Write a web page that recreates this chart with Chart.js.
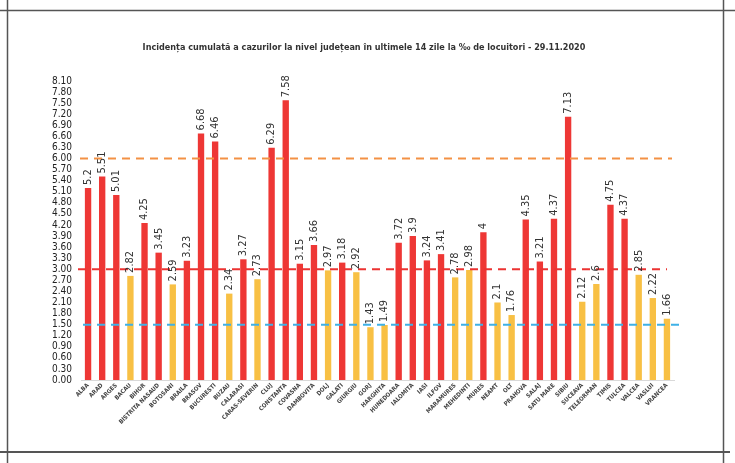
<!DOCTYPE html>
<html><head><meta charset="utf-8">
<script src="https://cdn.jsdelivr.net/npm/chart.js@4/dist/chart.umd.min.js"></script>
<style>html,body{margin:0;padding:0;background:#fff}#w{width:735px;height:463px;position:relative}</style>
</head><body><div id="w"><canvas id="c" width="735" height="463"></canvas></div>
<script>
const categories = ["ALBA","ARAD","ARGES","BACAU","BIHOR","BISTRITA NASAUD","BOTOSANI","BRAILA","BRASOV","BUCURESTI","BUZAU","CALARASI","CARAS-SEVERIN","CLUJ","CONSTANTA","COVASNA","DAMBOVITA","DOLJ","GALATI","GIURGIU","GORJ","HARGHITA","HUNEDOARA","IALOMITA","IASI","ILFOV","MARAMURES","MEHEDINTI","MURES","NEAMT","OLT","PRAHOVA","SALAJ","SATU MARE","SIBIU","SUCEAVA","TELEORMAN","TIMIS","TULCEA","VALCEA","VASLUI","VRANCEA"];
const values = [5.2,5.51,5.01,2.82,4.25,3.45,2.59,3.23,6.68,6.46,2.34,3.27,2.73,6.29,7.58,3.15,3.66,2.97,3.18,2.92,1.43,1.49,3.72,3.9,3.24,3.41,2.78,2.98,4,2.1,1.76,4.35,3.21,4.37,7.13,2.12,2.6,4.75,4.37,2.85,2.22,1.66];
const yTicks = [0,0.3,0.6,0.9,1.2,1.5,1.8,2.1,2.4,2.7,3.0,3.3,3.6,3.9,4.2,4.5,4.8,5.1,5.4,5.7,6.0,6.3,6.6,6.9,7.2,7.5,7.8,8.1];
const thresholds = [6.0, 3.0, 1.5];
const thresholdColors = ["#F39145","#EC3332","#3FB1E6"];
const titleText = "Incidența cumulată a cazurilor la nivel județean în ultimele 14 zile la ‰ de locuitori - 29.11.2020";

const RED = "#EE3735", YEL = "#F8C044";
const FONT = "'Liberation Sans Narrow','DejaVu Sans Condensed',sans-serif";

const deco = {
  id: 'deco',
  beforeDraw(chart){
    const ctx = chart.ctx;
    ctx.save();
    ctx.fillStyle = '#fff'; ctx.fillRect(0,0,chart.width,chart.height);
    ctx.strokeStyle = '#555'; ctx.lineWidth = 1.5;
    ctx.beginPath();
    ctx.moveTo(0,10.5); ctx.lineTo(735,10.5);
    ctx.moveTo(7.5,0); ctx.lineTo(7.5,463);
    ctx.moveTo(723.5,0); ctx.lineTo(723.5,463);
    ctx.stroke();
    ctx.lineWidth = 2;
    ctx.beginPath(); ctx.moveTo(0,452); ctx.lineTo(730,452); ctx.stroke();
    ctx.fillStyle = '#333';
    ctx.font = "bold 9px " + FONT;
    ctx.textAlign = 'center'; ctx.textBaseline = 'middle';
    ctx.fillText(titleText, 364, 48);
    ctx.restore();
  },
  afterDatasetsDraw(chart){
    const ctx = chart.ctx;
    const y = chart.scales.y;
    const a = chart.chartArea;
    ctx.save();
    const ext = [[a.left-1, a.right-2],[a.left-3, a.right-7],[a.left+2, a.right+6]];
    thresholds.forEach((t,i)=>{
      const py = y.getPixelForValue(t);
      ctx.strokeStyle = thresholdColors[i];
      ctx.lineWidth = 2;
      ctx.setLineDash([8,6]);
      ctx.beginPath(); ctx.moveTo(ext[i][0], py); ctx.lineTo(ext[i][1], py); ctx.stroke();
    });
    ctx.setLineDash([]);
    const meta = chart.getDatasetMeta(0);
    ctx.fillStyle = '#333';
    ctx.font = "11px " + FONT;
    ctx.textAlign = 'left'; ctx.textBaseline = 'middle';
    meta.data.forEach((bar,i)=>{
      ctx.save();
      ctx.translate(bar.x, bar.y - 3);
      ctx.rotate(-Math.PI/2);
      ctx.fillText(String(values[i]), 0, 0);
      ctx.restore();
    });
    ctx.restore();
  }
};

new Chart(document.getElementById('c'), {
  type: 'bar',
  data: {
    labels: categories,
    datasets: [{
      data: values,
      backgroundColor: values.map(v => v >= 3 ? RED : YEL),
      categoryPercentage: 1,
      barPercentage: 0.45
    }]
  },
  options: {
    responsive: false,
    animation: false,
    devicePixelRatio: 1,
    layout: { padding: { left: 0, right: 61, top: 81, bottom: 0 } },
    plugins: { legend: { display: false }, title: { display: false }, tooltip: { enabled: false } },
    scales: {
      x: {
        grid: { display: false, drawTicks: false },
        border: { display: true, color: '#D9D9D9', width: 1 },
        ticks: { autoSkip: false, maxRotation: 45, minRotation: 45, color: '#444', font: { family: FONT, size: 6, weight: 'bold' }, padding: 2 },
        afterFit(s){ s.height = 83; }
      },
      y: {
        min: 0, max: 8.1,
        grid: { display: false, drawTicks: false },
        border: { display: false },
        afterBuildTicks(s){ s.ticks = yTicks.map(v => ({ value: v })); },
        ticks: { autoSkip: false, color: '#222', font: { family: FONT, size: 10 }, padding: 9, callback: v => Number(v).toFixed(2) },
        afterFit(s){ s.width = 81; }
      }
    }
  },
  plugins: [deco]
});
</script></body></html>
